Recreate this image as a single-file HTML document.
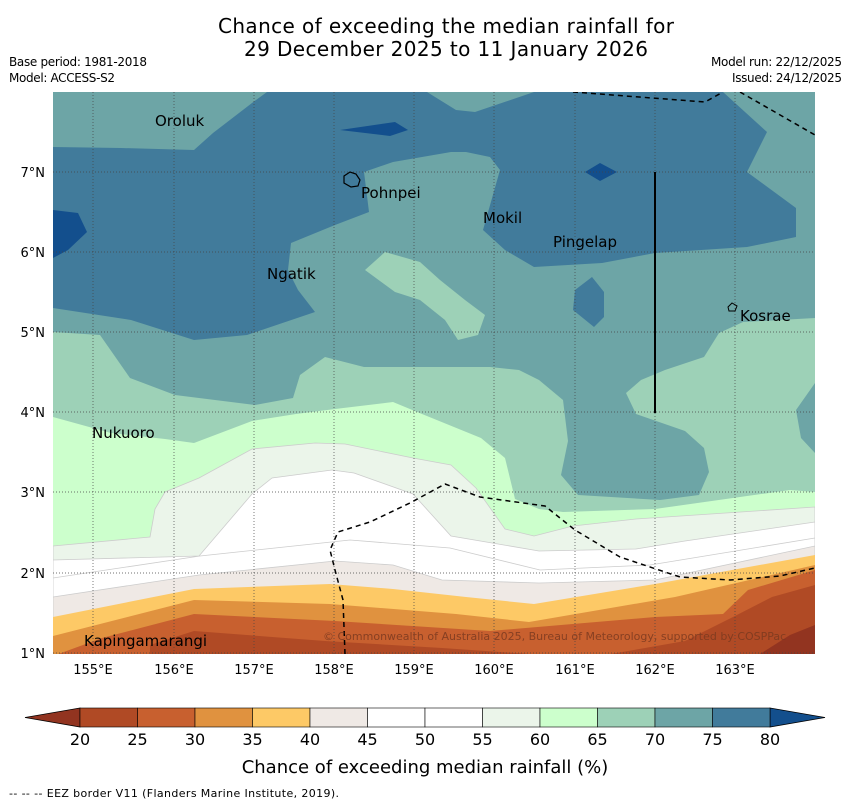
<!DOCTYPE html>
<html><head><meta charset="utf-8"><style>
body{margin:0;background:#fff;width:850px;height:804px;overflow:hidden;font-family:"DejaVu Sans","Liberation Sans",sans-serif;}
svg text{font-family:"DejaVu Sans","Liberation Sans",sans-serif;}
</style></head><body>
<svg width="850" height="804" viewBox="0 0 850 804">
<text x="446" y="33" font-size="20" text-anchor="middle" textLength="456">Chance of exceeding the median rainfall for</text>
<text x="446" y="56" font-size="20" text-anchor="middle" textLength="404">29 December 2025 to 11 January 2026</text>
<text x="9" y="66" font-size="12" textLength="138">Base period: 1981-2018</text>
<text x="9" y="82" font-size="12" textLength="106">Model: ACCESS-S2</text>
<text x="842" y="66" font-size="12" text-anchor="end" textLength="131">Model run: 22/12/2025</text>
<text x="842" y="82" font-size="12" text-anchor="end" textLength="110">Issued: 24/12/2025</text>
<defs><clipPath id="mc"><rect x="53" y="92" width="762" height="562"/></clipPath></defs>
<g clip-path="url(#mc)">
<rect x="53" y="92" width="762" height="562" fill="#6da5a6"/>
<polygon fill="#417b9b" points="267,92 427,92 456,110 475,112 534,92 723,92 767,132 747,172 796,208 796,237 747,247 655,253 602,263 534,267 505,250 483,230 500,170 490,157 466,152 451,152 393,162 364,172 369,212 335,225 291,243 288,270 298,290 315,312 247,335 194,340 131,320 53,308 53,147 121,148 194,150 213,133 252,103"/>
<polygon fill="#417b9b" points="592,277 604,292 604,317 594,327 573,310 575,290"/>
<polygon fill="#134f8d" points="53,210 78,213 87,232 68,250 53,258"/>
<polygon fill="#134f8d" points="340,130 395,122 408,130 390,136"/>
<polygon fill="#134f8d" points="585,172 600,163 617,172 600,181"/>
<polygon fill="#9dd1b7" points="365,270 385,252 420,262 440,280 465,300 485,315 478,335 458,340 445,320 420,300 395,292"/>
<polygon fill="#9dd1b7" points="53,332 100,335 130,378 175,395 255,405 293,398 300,375 325,357 364,367 490,367 519,370 539,380 563,400 568,441 561,475 578,495 660,500 699,495 709,472 704,448 685,431 636,414 626,393 641,380 665,370 704,357 719,333 743,322 815,318 815,383 796,410 801,438 815,453 815,654 53,654"/>
<polygon fill="#ccffcc" points="53,417 111,433 165,439 194,443 252,421 296,414 335,409 393,402 422,414 481,438 505,458 515,499 539,509 563,512 655,509 790,490 815,492 815,654 53,654"/>
<polygon fill="#ebf5ea" stroke="#ccc" stroke-width="0.8" points="53,546 150,537 155,509 165,492 199,478 252,449 315,443 345,444 413,458 451,465 476,488 505,529 534,536 573,526 636,519 815,507 815,654 53,654"/>
<polygon fill="#ffffff" stroke="#ccc" stroke-width="0.8" points="53,560 199,556 252,494 272,478 332,470 354,473 413,494 451,536 539,551 636,549 685,541 815,522 815,654 53,654"/>
<polyline fill="none" stroke="#ccc" stroke-width="0.8" points="53,578 200,556 350,540 450,548 540,570 650,565 815,538"/>
<polygon fill="#efe9e5" stroke="#ccc" stroke-width="0.8" points="53,597 199,575 335,561 393,565 442,580 539,583 655,580 815,546 815,654 53,654"/>
<polygon fill="#fdc966" points="53,617 194,589 330,584 393,589 466,597 534,604 655,584 815,555 815,654 53,654"/>
<polygon fill="#e0923f" points="53,636 194,600 330,604 456,614 529,622 675,597 815,565 815,654 53,654"/>
<polygon fill="#c8602f" points="53,656 102,638 194,614 335,621 490,631 655,617 723,614 748,590 815,570 815,654 53,654"/>
<polygon fill="#b04a25" points="150,654 150,645 194,631 325,641 442,648 588,658 685,641 733,617 772,597 815,585 815,654"/>
<polygon fill="#923420" points="760,654 790,635 815,625 815,654"/>
<g stroke="#444" stroke-width="0.7" stroke-dasharray="1,2">
<line x1="93" y1="92" x2="93" y2="654"/><line x1="174" y1="92" x2="174" y2="654"/><line x1="254" y1="92" x2="254" y2="654"/><line x1="334" y1="92" x2="334" y2="654"/><line x1="414" y1="92" x2="414" y2="654"/><line x1="494" y1="92" x2="494" y2="654"/><line x1="575" y1="92" x2="575" y2="654"/><line x1="655" y1="92" x2="655" y2="654"/><line x1="735" y1="92" x2="735" y2="654"/>
<line x1="53" y1="172" x2="815" y2="172"/><line x1="53" y1="252" x2="815" y2="252"/><line x1="53" y1="332" x2="815" y2="332"/><line x1="53" y1="412" x2="815" y2="412"/><line x1="53" y1="492" x2="815" y2="492"/><line x1="53" y1="573" x2="815" y2="573"/><line x1="53" y1="653" x2="815" y2="653"/>
</g>
<g fill="none" stroke="#000" stroke-width="1.5" stroke-dasharray="5,4">
<polyline points="573,92 705,102 723,92"/>
<polyline points="740,92 815,135"/>
<polyline points="345,654 343,600 335,570 330,550 338,532 370,522 410,503 445,484 480,497 545,506 575,530 620,557 680,577 730,580 780,576 815,568"/>
</g>
<line x1="655" y1="172" x2="655" y2="413" stroke="#000" stroke-width="2"/>
<path d="M344,176 l6,-4 l6,2 l4,6 l-2,6 l-7,1 l-7,-4 z" fill="none" stroke="#000" stroke-width="1.2"/>
<path d="M728,307 l4,-4 l5,3 l-2,5 l-6,0 z" fill="none" stroke="#000" stroke-width="1"/>
<g font-size="15" fill="#000">
<text x="155" y="126">Oroluk</text><text x="361" y="198">Pohnpei</text><text x="483" y="223">Mokil</text><text x="553" y="247">Pingelap</text><text x="267" y="279">Ngatik</text><text x="740" y="321">Kosrae</text><text x="92" y="438">Nukuoro</text><text x="84" y="646">Kapingamarangi</text>
</g>
</g>
<text x="323" y="640" font-size="11" fill="#7a3a20" fill-opacity="0.85">© Commonwealth of Australia 2025, Bureau of Meteorology, supported by COSPPac</text>
<g font-size="13" text-anchor="middle">
<text x="93" y="674">155°E</text><text x="174" y="674">156°E</text><text x="254" y="674">157°E</text><text x="334" y="674">158°E</text><text x="414" y="674">159°E</text><text x="494" y="674">160°E</text><text x="575" y="674">161°E</text><text x="655" y="674">162°E</text><text x="735" y="674">163°E</text>
</g>
<g font-size="13" text-anchor="end">
<text x="45" y="177">7°N</text><text x="45" y="257">6°N</text><text x="45" y="337">5°N</text><text x="45" y="417">4°N</text><text x="45" y="497">3°N</text><text x="45" y="578">2°N</text><text x="45" y="658">1°N</text>
</g>
<g id="cbar"></g>
<text x="425" y="773" font-size="18" text-anchor="middle">Chance of exceeding median rainfall (%)</text>
<text x="9" y="797" font-size="11" textLength="330">--  --  -- EEZ border V11 (Flanders Marine Institute, 2019).</text>
</svg>
<script>
const levels=[20,25,30,35,40,45,50,55,60,65,70,75,80];
const bandColors=["#b04a25","#c8602f","#e0923f","#fdc966","#efe9e5","#ffffff","#ffffff","#ebf5ea","#ccffcc","#9dd1b7","#6da5a6","#417b9b"];
const underColor="#923420", overColor="#134f8d";
const NS="http://www.w3.org/2000/svg";
const g=document.getElementById('cbar');
const x0=80,x1=770,y0=708,y1=727;
const sx=v=>x0+(v-levels[0])/(levels[levels.length-1]-levels[0])*(x1-x0);
function mk(t,a){const e=document.createElementNS(NS,t);for(const k in a)e.setAttribute(k,a[k]);g.appendChild(e);return e;}
let tl=mk('polygon',{points:`${x0},${y0} 25,${(y0+y1)/2} ${x0},${y1}`,fill:underColor,stroke:'#000','stroke-width':0.8});


let tr=mk('polygon',{points:`${x1},${y0} 825,${(y0+y1)/2} ${x1},${y1}`,fill:overColor,stroke:'#000','stroke-width':0.8});


for(let i=0;i<bandColors.length;i++){
 const r=mk('rect',{x:sx(levels[i]),y:y0,width:sx(levels[i+1])-sx(levels[i]),height:y1-y0,fill:bandColors[i],stroke:'#000','stroke-width':0.6});
 
 
}
levels.forEach(v=>{
 const t=mk('text',{x:sx(v),y:745,'font-size':16,'text-anchor':'middle'});
 t.textContent=v;
 
 
});
</script>
</body></html>
